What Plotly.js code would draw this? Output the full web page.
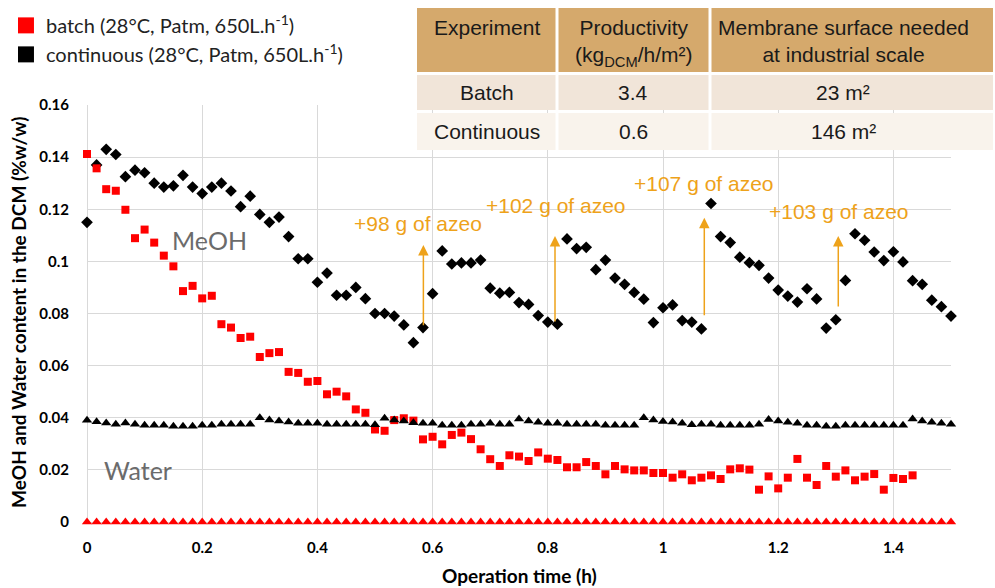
<!DOCTYPE html>
<html><head><meta charset="utf-8">
<script src="https://cdn.plot.ly/plotly-3.0.1.min.js"></script>
<style>html,body{margin:0;padding:0;background:#fff}#chart{width:995px;height:588px}</style>
</head><body><div id="chart"></div>
<script>
// ---------- data ----------
const timeMin = [0,1,2,3,4,5,6,7,8,9,10,11,12,13,14,15,16,17,18,19,20,21,22,23,24,25,26,27,28,29,30,
  31,32,33,34,35,36,37,38,39,40,41,42,43,44,45,46,47,48,49,50,51,52,53,54,55,56,57,58,59,60,
  61,62,63,64,65,66,67,68,69,70,71,72,73,74,75,76,77,78,79,80,81,82,83,84,85,86,87,88,89,90];

const contMeOH = [0.115,0.137,0.143,0.141,0.1325,0.135,0.134,0.130,0.1285,0.129,
  0.133,0.1285,0.126,0.1285,0.130,0.127,0.121,0.125,0.118,0.115,
  0.117,0.1095,0.101,0.101,0.092,0.0955,0.087,0.087,0.090,0.0857,
  0.080,0.080,0.079,0.0756,0.0688,0.0746,0.0876,0.104,0.099,0.0994,
  0.0994,0.1005,0.0897,0.0878,0.0881,0.0842,0.0835,0.0792,0.0767,0.0759,
  0.1086,0.1049,0.1054,0.0968,0.1005,0.0936,0.0912,0.0881,0.0855,0.0765,
  0.0822,0.0833,0.0773,0.0767,0.0741,0.1222,0.1095,0.1072,0.1016,0.0995,
  0.0985,0.0936,0.0890,0.0867,0.0844,0.0895,0.0856,0.0744,0.0776,0.0927,
  0.1106,0.1081,0.1036,0.1003,0.1037,0.0998,0.0926,0.0912,0.0851,0.0826,0.0790];

const batchMeOH = [0.1412,0.1357,0.1277,0.1271,0.1198,0.1089,0.1122,0.1072,0.1022,0.0981,
  0.0886,0.0906,0.0858,0.0868,0.0759,0.0746,0.0706,0.0711,0.0633,0.0648,
  0.0652,0.0576,0.0572,0.0538,0.0541,0.0490,0.0500,0.0482,0.0432,0.0419,
  0.0355,0.0350,0.0391,0.0398,0.0389,0.0317,0.0327,0.0298,0.0334,0.0343,
  0.0318,0.0279,0.0241,0.0215,0.0256,0.0251,0.0234,0.0267,0.0243,0.0238,
  0.0210,0.0210,0.0230,0.0215,0.0183,0.0215,0.0202,0.0198,0.0198,0.0188,
  0.0188,0.0170,0.0183,0.0160,0.0170,0.0179,0.0165,0.0202,0.0206,0.0201,
  0.0124,0.0175,0.0129,0.0170,0.0242,0.0170,0.0142,0.0215,0.0174,0.0198,
  0.0160,0.0174,0.0184,0.0124,0.0169,0.0165,0.0179];

const contWater = [0.0390,0.0385,0.0380,0.0375,0.0380,0.0375,0.0371,0.0371,0.0371,0.0367,
  0.0367,0.0367,0.0371,0.0371,0.0375,0.0375,0.0375,0.0375,0.0400,0.0391,
  0.0388,0.0384,0.0379,0.0379,0.0379,0.0375,0.0375,0.0375,0.0375,0.0375,
  0.0373,0.0398,0.0391,0.0388,0.0381,0.0379,0.0379,0.0371,0.0371,0.0371,
  0.0375,0.0375,0.0379,0.0375,0.0375,0.0395,0.0388,0.0383,0.0379,0.0379,
  0.0375,0.0375,0.0375,0.0375,0.0371,0.0371,0.0371,0.0371,0.0400,0.0391,
  0.0386,0.0384,0.0379,0.0373,0.0375,0.0375,0.0371,0.0371,0.0371,0.0371,
  0.0375,0.0393,0.0388,0.0383,0.0379,0.0371,0.0371,0.0367,0.0367,0.0371,
  0.0371,0.0371,0.0371,0.0371,0.0371,0.0371,0.0395,0.0388,0.0383,0.0379,0.0375];

const batchWater = [0,0,0,0,0,0,0,0,0,0, 0,0,0,0,0,0,0,0,0,0, 0,0,0,0,0,0,0,0,0,0,
  0,0,0,0,0,0,0,0,0,0, 0,0,0,0,0,0,0,0,0,0, 0,0,0,0,0,0,0,0,0,0,
  0,0,0,0,0,0,0,0,0,0, 0,0,0,0,0,0,0,0,0,0, 0,0,0,0,0,0,0,0,0,0, 0];

const legendNames = ['batch (28°C, Patm, 650L.h<sup>-1</sup>)', 'continuous (28°C, Patm, 650L.h<sup>-1</sup>)'];
const seriesLabels = ['MeOH', 'Water'];
const xTitle = 'Operation time (h)';
const yTitle = 'MeOH and Water content in the DCM (%w/w)';

const azeoLabels = ['+98 g of azeo', '+102 g of azeo', '+107 g of azeo', '+103 g of azeo'];
const azeoTime = [0.584, 0.8125, 1.0717, 1.3043];   // arrow x (h)
const azeoFrom = [0.0749, 0.0764, 0.0788, 0.0821];  // arrow tail
const azeoTo   = [0.1063, 0.1097, 0.1167, 0.1097];  // arrow head

const tableHeader = ['Experiment', 'Productivity<br>(kg<sub>DCM</sub>/h/m²)', 'Membrane surface needed<br>at industrial scale'];
const tableRows = [
  ['Batch', '3.4', '23 m²'],
  ['Continuous', '0.6', '146 m²']
];

// ---------- layout helpers ----------
const W = 995, H = 588;
const PL = 87, PR = 951, PT = 105, PB = 522;
const px = X => (X - PL) / (PR - PL);
const py = Y => (PB - Y) / (PB - PT);
const tHours = timeMin.map(m => m / 60);

const RED = '#FF0000', BLACK = '#000000', ORANGE = '#EEA21A';
const GRID = '#D9D9D9';
const tickFont = {family: 'Lato, Arial, sans-serif', size: 15, color: '#000', weight: 700};
const titleFont = {family: 'Lato, Arial, sans-serif', size: 19, color: '#000', weight: 700};

const traces = [
  {x: tHours.slice(0, contMeOH.length), y: contMeOH, mode: 'markers', type: 'scatter', showlegend: false,
   cliponaxis: false, marker: {symbol: 'diamond', size: 9, color: BLACK}},
  {x: tHours.slice(0, batchMeOH.length), y: batchMeOH, mode: 'markers', type: 'scatter', showlegend: false,
   cliponaxis: false, marker: {symbol: 'square', size: 8, color: RED}},
  {x: tHours.slice(0, contWater.length), y: contWater, mode: 'markers', type: 'scatter', showlegend: false,
   cliponaxis: false, marker: {symbol: 'triangle-up', size: 9, color: BLACK}},
  {x: tHours.slice(0, batchWater.length), y: batchWater, mode: 'markers', type: 'scatter', showlegend: false,
   cliponaxis: false, marker: {symbol: 'triangle-up', size: 9, color: RED}},
  // legend entries
  {x: [null], y: [null], mode: 'markers', type: 'scatter', name: legendNames[0],
   marker: {symbol: 'square', size: 16, color: RED}},
  {x: [null], y: [null], mode: 'markers', type: 'scatter', name: legendNames[1],
   marker: {symbol: 'square', size: 16, color: BLACK}}
];

// ---------- annotations ----------
const annotations = [];
const labelPos = [[0.574, 0.1147], [0.814, 0.1216], [1.071, 0.130], [1.306, 0.1193]];
azeoLabels.forEach((t, i) => {
  annotations.push({x: azeoTime[i], y: azeoTo[i], ax: azeoTime[i], ay: azeoFrom[i], axref: 'x', ayref: 'y',
    xref: 'x', yref: 'y', text: '', showarrow: true, arrowhead: 2, arrowsize: 1.4, arrowwidth: 1.5,
    arrowcolor: ORANGE, standoff: 0, startstandoff: 0});
  annotations.push({x: labelPos[i][0], y: labelPos[i][1], xref: 'x', yref: 'y', text: t, showarrow: false,
    font: {family: 'Liberation Sans, Arial, sans-serif', size: 21, color: ORANGE}});
});
annotations.push({x: 0.2135, y: 0.1082, xref: 'x', yref: 'y', text: seriesLabels[0], showarrow: false,
  font: {family: 'Lato, sans-serif', size: 25, color: '#6b6b6b'}});
annotations.push({x: 0.0885, y: 0.0200, xref: 'x', yref: 'y', text: seriesLabels[1], showarrow: false,
  font: {family: 'Lato, sans-serif', size: 25, color: '#6b6b6b'}});

// axis titles
annotations.push({xref: 'paper', yref: 'paper', x: px(519), y: py(575), text: xTitle, showarrow: false,
  xanchor: 'center', yanchor: 'middle', font: titleFont});
annotations.push({xref: 'paper', yref: 'paper', x: px(18), y: py(313), text: yTitle, showarrow: false,
  xanchor: 'center', yanchor: 'middle', textangle: -90, font: titleFont});

// ---------- table (shapes + text) ----------
const colEdges = [417, 557, 710, 993];
const colTextX = [487, 633, 843];
const rowEdges = [[8, 72], [75, 110], [113, 150]];
const rowFills = ['#D5A96C', '#F1E5D9', '#F9F3EC'];
const shapes = [];
const tableCells = [tableHeader].concat(tableRows);
tableCells.forEach((row, r) => {
  row.forEach((txt, c) => {
    const x0 = colEdges[c] + (c > 0 ? 1.5 : 0), x1 = colEdges[c + 1] - (c < 2 ? 1.5 : 0);
    shapes.push({type: 'rect', xref: 'paper', yref: 'paper', layer: 'above',
      x0: px(x0), x1: px(x1), y0: py(rowEdges[r][1]), y1: py(rowEdges[r][0]),
      fillcolor: rowFills[r], line: {width: 0}});
    const isHead = r === 0;
    annotations.push({xref: 'paper', yref: 'paper', x: px(colTextX[c]),
      y: isHead ? py(14) : py((rowEdges[r][0] + rowEdges[r][1]) / 2), text: txt, showarrow: false,
      xanchor: 'center', yanchor: isHead ? 'top' : 'middle', align: 'center',
      font: {family: 'Liberation Sans, Arial, sans-serif', size: 21, color: '#1a1a1a'}});
  });
});

const layout = {
  width: W, height: H,
  margin: {l: PL, r: W - PR, t: PT, b: H - PB, pad: 0, autoexpand: false},
  paper_bgcolor: '#fff', plot_bgcolor: '#fff',
  showlegend: true,
  legend: {xref: 'container', yref: 'container', x: 0.006, y: 0.99, xanchor: 'left', yanchor: 'top',
    font: {family: 'Lato, sans-serif', size: 20, color: '#222'}, bgcolor: 'rgba(0,0,0,0)',
    itemwidth: 30, tracegroupgap: 0},
  xaxis: {range: [0, 1.5], tick0: 0, dtick: 0.2, showgrid: true, gridcolor: GRID, gridwidth: 1,
    zeroline: true, zerolinecolor: GRID, zerolinewidth: 1, showline: false, automargin: false,
    ticks: 'outside', ticklen: 12, tickcolor: 'rgba(0,0,0,0)', tickfont: tickFont},
  yaxis: {range: [0, 0.16], tick0: 0, dtick: 0.02, showgrid: true, gridcolor: GRID, gridwidth: 1,
    zeroline: true, zerolinecolor: GRID, zerolinewidth: 1, showline: false, automargin: false,
    ticks: 'outside', ticklen: 14, tickcolor: 'rgba(0,0,0,0)', tickfont: tickFont},
  annotations: annotations,
  shapes: shapes
};

Plotly.newPlot('chart', traces, layout, {displayModeBar: false, staticPlot: true});
</script>
</body></html>
